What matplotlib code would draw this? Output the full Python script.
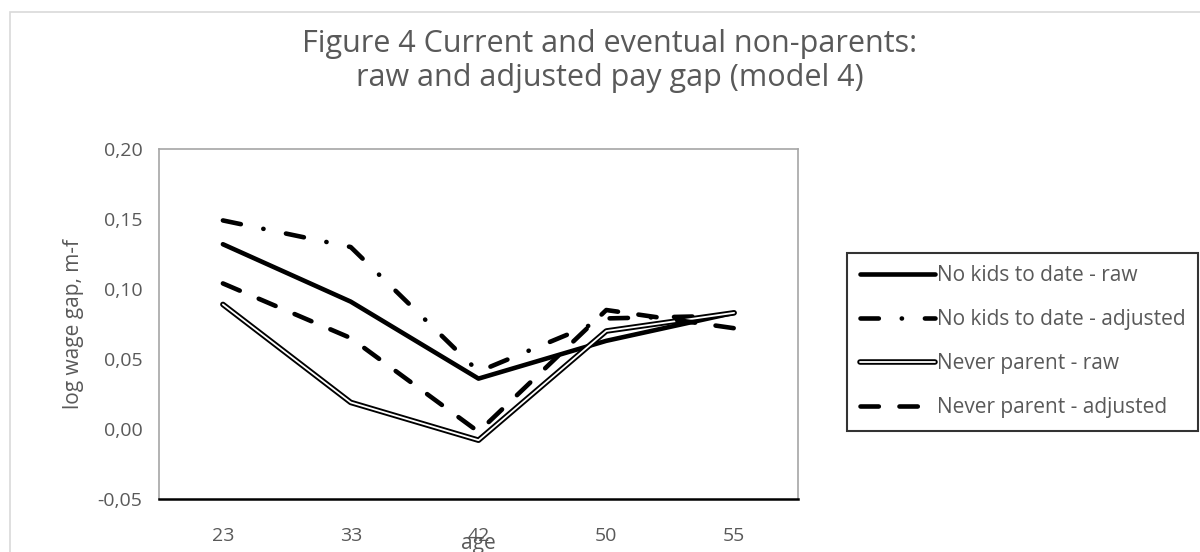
import matplotlib
matplotlib.use("Agg")
import matplotlib.pyplot as plt
import matplotlib.patheffects as pe
from matplotlib.patches import Rectangle
from matplotlib.ticker import FuncFormatter

plt.rcParams['font.family'] = ['Open Sans', 'DejaVu Sans']

# data
ages = ['23', '33', '42', '50', '55']
nokids_raw = [0.132, 0.091, 0.036, 0.063, 0.083]
nokids_adj = [0.149, 0.130, 0.041, 0.079, 0.081]
never_raw = [0.089, 0.019, -0.008, 0.070, 0.083]
never_adj = [0.104, 0.065, -0.002, 0.085, 0.072]

txt = '#595959'

fig = plt.figure(figsize=(12, 5.52), dpi=100)
ax = fig.add_axes([0.1325, 0.096, 0.5325, 0.634])

x = list(range(len(ages)))

ax.plot(x, nokids_raw, color='black', lw=3.3, solid_capstyle='round',
        solid_joinstyle='round', label='No kids to date - raw')
ax.plot(x, nokids_adj, color='black', lw=3.3, dash_capstyle='round',
        linestyle=(0, (4, 5, 0.05, 5)), label='No kids to date - adjusted')
ax.plot(x, never_raw, color='white', lw=1.3, solid_capstyle='round',
        path_effects=[pe.withStroke(linewidth=4.0, foreground='black')],
        label='Never parent - raw')
ax.plot(x, never_adj, color='black', lw=3.3, dash_capstyle='round',
        linestyle=(0, (4, 4.5)), label='Never parent - adjusted')

ax.set_xlim(-0.5, len(ages) - 0.5)
ax.set_ylim(-0.05, 0.20)
ax.set_yticks([-0.05, 0, 0.05, 0.10, 0.15, 0.20])
ax.yaxis.set_major_formatter(FuncFormatter(lambda v, p: f'{v:.2f}'.replace('.', ',')))
ax.set_xticks(x)
ax.set_xticklabels(ages)
ax.tick_params(axis='both', length=0, labelsize=14, labelcolor=txt)
ax.tick_params(axis='x', pad=20)
ax.tick_params(axis='y', pad=12)

for s in ['left', 'top', 'right']:
    ax.spines[s].set_color('#a6a6a6')
    ax.spines[s].set_linewidth(1.2)
ax.spines['bottom'].set_color('black')
ax.spines['bottom'].set_linewidth(1.8)

ax.set_ylabel('log wage gap, m-f', fontsize=15, color=txt, labelpad=10)
fig.text(0.399, -0.004, 'age', fontsize=15, color=txt, ha='center', va='bottom')

fig.text(0.508, 0.921, 'Figure 4 Current and eventual non-parents:',
         fontsize=22, color=txt, ha='center', va='center')
fig.text(0.508, 0.858, 'raw and adjusted pay gap (model 4)',
         fontsize=22, color=txt, ha='center', va='center')

leg = ax.legend(loc='upper left', bbox_to_anchor=(0.706, 0.5417),
                bbox_transform=fig.transFigure, fontsize=15, frameon=True,
                fancybox=False, edgecolor='black', handlelength=3.6,
                handletextpad=0.1, labelspacing=1.1, borderpad=0.6,
                borderaxespad=0)
leg.get_frame().set_linewidth(1.5)
for t in leg.get_texts():
    t.set_color(txt)

# outer chart border
fig.patches.append(Rectangle((10 / 1200, -0.1), 1.2, 1 - 12 / 552 + 0.1,
                             transform=fig.transFigure, fill=False,
                             edgecolor='#d9d9d9', lw=1.2))

fig.savefig('out.png', dpi=100)
